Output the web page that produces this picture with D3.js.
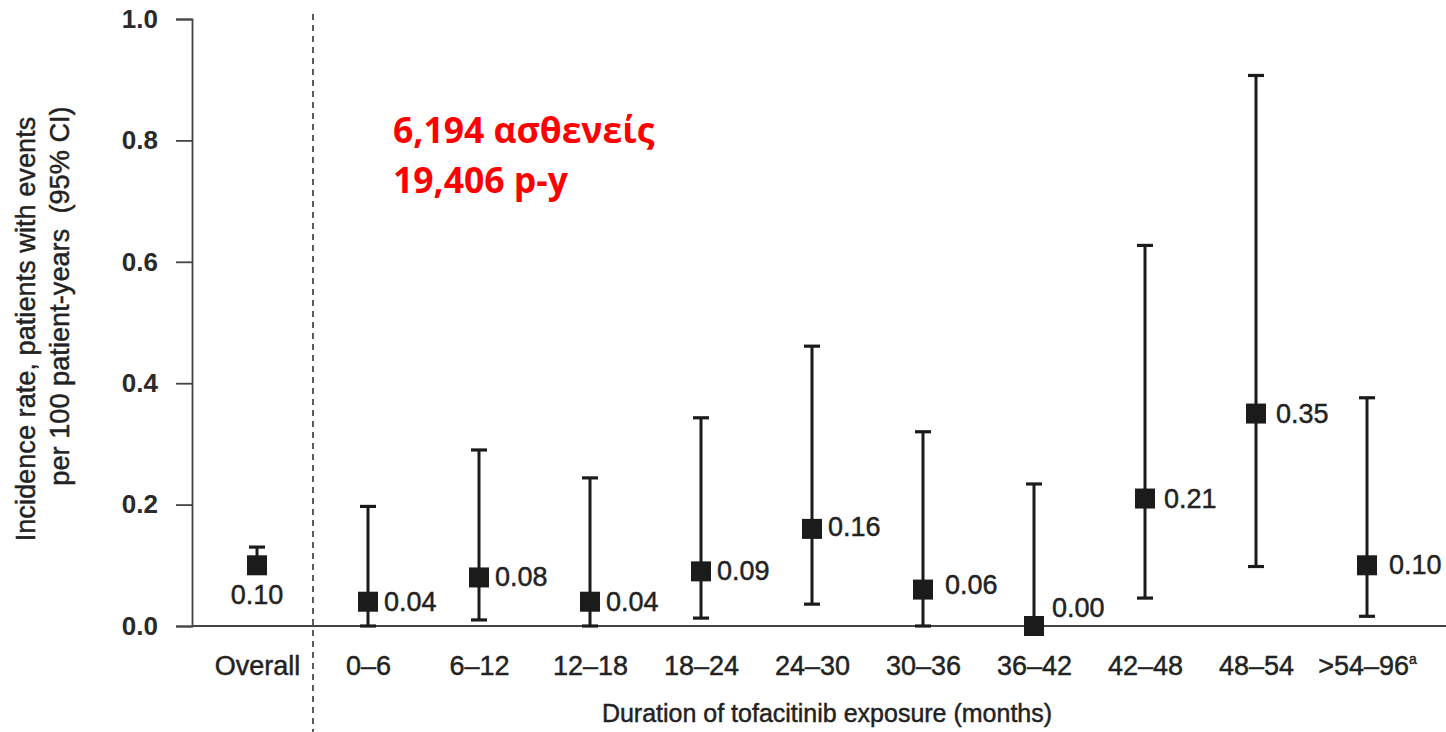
<!DOCTYPE html>
<html>
<head>
<meta charset="utf-8">
<script src="https://cdn.jsdelivr.net/npm/d3@7/dist/d3.min.js"></script>
<style>
  html, body { margin: 0; padding: 0; background: #fff; }
  svg { display: block; }
</style>
</head>
<body>
<svg id="chart" width="1446" height="732"></svg>
<script>
// ---- data ----
const categories = ["Overall", "0–6", "6–12", "12–18", "18–24", "24–30", "30–36", "36–42", "42–48", "48–54", ">54–96"];
const rates      = [0.10, 0.04, 0.08, 0.04, 0.09, 0.16, 0.06, 0.00, 0.21, 0.35, 0.10];
const ciLower    = [0.087, 0.00, 0.010, 0.00, 0.013, 0.036, 0.00, 0.00, 0.046, 0.098, 0.016];
const ciUpper    = [0.13, 0.197, 0.290, 0.244, 0.343, 0.461, 0.320, 0.234, 0.627, 0.907, 0.376];
const rateLabels = ["0.10", "0.04", "0.08", "0.04", "0.09", "0.16", "0.06", "0.00", "0.21", "0.35", "0.10"];
const yTicks     = [0, 0.2, 0.4, 0.6, 0.8, 1.0];
const yTitle     = ["Incidence rate, patients with events", "per 100 patient-years  (95% CI)"];
const xTitle     = "Duration of tofacitinib exposure (months)";
const annotation = ["6,194 ασθενείς", "19,406 p-y"];

// label nudges (layout only)
const labelDx = [0, 16, 16, 16, 16, 16, 22, 18, 19, 20, 22];
const labelDy = [0, 0, 0, 0, 0, -2, -5, -18, 0, 0, 0];

const svg = d3.select("#chart");
const FONT = "'Liberation Sans', Arial, Helvetica, sans-serif";
const INK = "#1b1b1b";
const TXT = "#222";

function heavy(sel) {
  return sel.attr("stroke", TXT).attr("stroke-width", 0.45).attr("paint-order", "stroke");
}

const x = d3.scalePoint().domain(categories).range([257, 1367]).padding(0);
const y = d3.scaleLinear().domain([0, 1]).range([626, 19]);
const axisX = 192;

// dashed separator
svg.append("line")
  .attr("x1", 313).attr("x2", 313).attr("y1", 14).attr("y2", 732)
  .attr("stroke", "#333").attr("stroke-width", 1.6)
  .attr("stroke-dasharray", "6,5");

// y axis
const yAxis = d3.axisLeft(y).tickValues(yTicks).tickFormat(d3.format(".1f"))
  .tickSize(16).tickPadding(18);
const gY = svg.append("g").attr("transform", `translate(${axisX},0)`).call(yAxis);
gY.select(".domain").attr("stroke", "#444").attr("stroke-width", 1.8);
gY.selectAll(".tick line").attr("stroke", "#444").attr("stroke-width", 1.8);
gY.selectAll(".tick text")
  .attr("font-family", FONT).attr("font-size", 26).attr("font-weight", "bold")
  .attr("fill", "#2a2a2a");

// x axis labels
const xAxis = d3.axisBottom(x).tickSize(0).tickPadding(38);
const gX = svg.append("g").attr("transform", `translate(0,${y(0)})`).call(xAxis);
gX.select(".domain").remove();
svg.append("line")
  .attr("x1", axisX).attr("x2", 1446).attr("y1", y(0)).attr("y2", y(0))
  .attr("stroke", "#444").attr("stroke-width", 1.8);
heavy(gX.selectAll(".tick text")
  .attr("font-family", FONT).attr("font-size", 27)
  .attr("fill", TXT).attr("dy", 0)
  .attr("y", 49))
  .each(function(d) {
    if (d === ">54–96") {
      const t = d3.select(this);
      t.text(d);
      t.append("tspan").text("a").attr("font-size", 14).attr("dy", -11);
    }
  });

// error bars
const g = svg.append("g");
const idx = d3.range(categories.length);
g.selectAll("line.err").data(idx).join("line").attr("class", "err")
  .attr("x1", i => x(categories[i])).attr("x2", i => x(categories[i]))
  .attr("y1", i => y(ciLower[i])).attr("y2", i => y(ciUpper[i]))
  .attr("stroke", INK).attr("stroke-width", 3);
const capW = 16;
g.selectAll("line.capU").data(idx).join("line").attr("class", "capU")
  .attr("x1", i => x(categories[i]) - capW / 2).attr("x2", i => x(categories[i]) + capW / 2)
  .attr("y1", i => y(ciUpper[i])).attr("y2", i => y(ciUpper[i]))
  .attr("stroke", INK).attr("stroke-width", 3.2);
g.selectAll("line.capL").data(idx).join("line").attr("class", "capL")
  .attr("x1", i => x(categories[i]) - capW / 2).attr("x2", i => x(categories[i]) + capW / 2)
  .attr("y1", i => y(ciLower[i])).attr("y2", i => y(ciLower[i]))
  .attr("stroke", INK).attr("stroke-width", 3.2);

// markers
const M = 20;
g.selectAll("rect.pt").data(idx).join("rect").attr("class", "pt")
  .attr("x", i => x(categories[i]) - M / 2)
  .attr("y", i => y(rates[i]) - M / 2)
  .attr("width", M).attr("height", M)
  .attr("fill", INK);

// value labels
heavy(g.selectAll("text.val").data(idx).join("text").attr("class", "val")
  .attr("x", i => i === 0 ? x(categories[i]) : x(categories[i]) + labelDx[i])
  .attr("y", i => i === 0 ? y(rates[i]) + 30 : y(rates[i]) + labelDy[i])
  .attr("dominant-baseline", "central")
  .attr("text-anchor", i => i === 0 ? "middle" : "start")
  .attr("font-family", FONT).attr("font-size", 27)
  .attr("fill", TXT)
  .text(i => rateLabels[i]));

// y title
heavy(svg.append("text")
  .attr("transform", "translate(35,329) rotate(-90)")
  .attr("text-anchor", "middle")
  .attr("font-family", FONT).attr("font-size", 27.2).attr("fill", TXT)
  .text(yTitle[0]));
heavy(svg.append("text")
  .attr("transform", "translate(69,296) rotate(-90)")
  .attr("text-anchor", "middle")
  .attr("font-family", FONT).attr("font-size", 27.2).attr("fill", TXT)
  .style("white-space", "pre")
  .text(yTitle[1]));

// x title
heavy(svg.append("text")
  .attr("x", 827).attr("y", 722)
  .attr("text-anchor", "middle")
  .attr("font-family", FONT).attr("font-size", 25).attr("fill", TXT)
  .text(xTitle));

// red annotation
svg.selectAll("text.ann").data(annotation).join("text").attr("class", "ann")
  .attr("x", 393).attr("y", (d, i) => 143 + i * 50)
  .attr("font-family", "'Open Sans', 'Noto Sans', sans-serif")
  .attr("font-weight", "bold").attr("font-size", 35.5)
  .attr("fill", "#ff0000")
  .text(d => d);
</script>
</body>
</html>
